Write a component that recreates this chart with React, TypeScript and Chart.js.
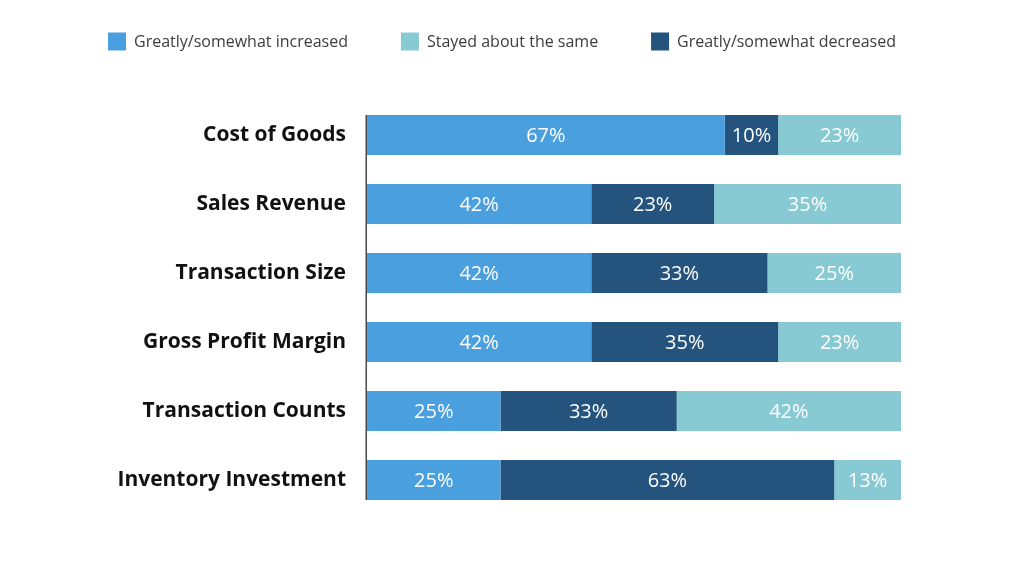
import React, { useEffect, useRef } from "react";
import { Chart, registerables } from "chart.js";

Chart.register(...registerables);

const categories = [
  "Cost of Goods",
  "Sales Revenue",
  "Transaction Size",
  "Gross Profit Margin",
  "Transaction Counts",
  "Inventory Investment",
];
const increased = [67, 42, 42, 42, 25, 25];
const decreased = [10, 23, 33, 35, 33, 62.5];
const same = [23, 35, 25, 23, 42, 12.5];
const seriesLabels = [
  "Greatly/somewhat increased",
  "Greatly/somewhat decreased",
  "Stayed about the same",
];
const legendOrder = [0, 2, 1];
const colors = ["#4A9FDF", "#24547E", "#88CAD3"];

const FONT = "'Open Sans', sans-serif";

const legendPlugin = {
  id: "customLegend",
  afterDraw(chart: any) {
    const ctx = chart.ctx;
    const ds = chart.data.datasets;
    ctx.save();
    ctx.font = `400 16px ${FONT}`;
    const box = 18;
    const gapText = 8;
    const startX = 108;
    const endX = 896;
    const widths = legendOrder.map(
      (i) => box + gapText + ctx.measureText(ds[i].label).width
    );
    const total = widths.reduce((a: number, b: number) => a + b, 0);
    const gap = (endX - startX - total) / (legendOrder.length - 1);
    let x = startX;
    const cy = 41.5;
    legendOrder.forEach((i, k) => {
      ctx.fillStyle = ds[i].backgroundColor;
      ctx.fillRect(x, cy - box / 2, box, box);
      ctx.fillStyle = "#3c3c3c";
      ctx.textAlign = "left";
      ctx.textBaseline = "middle";
      ctx.fillText(ds[i].label, x + box + gapText, cy + 1);
      x += widths[k] + gap;
    });
    ctx.restore();
  },
};

const axisLinePlugin = {
  id: "axisLine",
  afterDatasetsDraw(chart: any) {
    const meta = chart.getDatasetMeta(0);
    const els = meta.data;
    if (!els.length) return;
    const first = els[0];
    const last = els[els.length - 1];
    const top = first.y - first.height / 2;
    const bottom = last.y + last.height / 2;
    const x = chart.chartArea.left - 0.75;
    const ctx = chart.ctx;
    ctx.save();
    ctx.strokeStyle = "#4a4a4a";
    ctx.lineWidth = 1.5;
    ctx.beginPath();
    ctx.moveTo(x, top);
    ctx.lineTo(x, bottom);
    ctx.stroke();
    ctx.restore();
  },
};

const valueLabelPlugin = {
  id: "valueLabels",
  afterDatasetsDraw(chart: any) {
    const ctx = chart.ctx;
    ctx.save();
    ctx.font = `400 20px ${FONT}`;
    ctx.fillStyle = "#ffffff";
    ctx.textAlign = "center";
    ctx.textBaseline = "middle";
    chart.data.datasets.forEach((d: any, i: number) => {
      const meta = chart.getDatasetMeta(i);
      meta.data.forEach((el: any, j: number) => {
        const cx = (el.x + el.base) / 2;
        ctx.fillText(Math.round(d.data[j]) + "%", cx, el.y + 1);
      });
    });
    ctx.restore();
  },
};

export default function App() {
  const canvasRef = useRef<HTMLCanvasElement | null>(null);

  useEffect(() => {
    if (!canvasRef.current) return;
    const seriesData = [increased, decreased, same];
    const chart = new Chart(canvasRef.current, {
      type: "bar",
      data: {
        labels: categories,
        datasets: seriesData.map((d, i) => ({
          label: seriesLabels[i],
          data: d,
          backgroundColor: colors[i],
          borderWidth: 0,
          barPercentage: 40 / 69,
          categoryPercentage: 1,
        })),
      },
      options: {
        indexAxis: "y",
        animation: false,
        responsive: true,
        maintainAspectRatio: false,
        layout: { padding: { top: 100.5, right: 123, bottom: 55.5, left: 0 } },
        plugins: {
          legend: { display: false },
          tooltip: { enabled: false },
        },
        scales: {
          x: { stacked: true, min: 0, max: 100, display: false },
          y: {
            stacked: true,
            grid: { display: false, drawTicks: false },
            border: { display: false },
            ticks: {
              font: { family: FONT, size: 21, weight: "bold" },
              color: "#111111",
              padding: 21,
            },
            afterFit: (scale: any) => {
              scale.width = 367;
            },
          },
        },
      },
      plugins: [legendPlugin, axisLinePlugin, valueLabelPlugin],
    });
    return () => chart.destroy();
  }, []);

  return (
    <div style={{ position: "absolute", left: 0, top: 0, width: 1024, height: 570, background: "#ffffff" }}>
      <canvas ref={canvasRef} />
    </div>
  );
}
